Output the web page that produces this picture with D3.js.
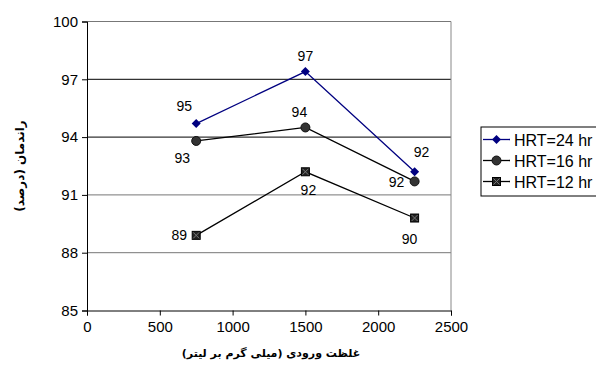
<!DOCTYPE html>
<html><head><meta charset="utf-8">
<script src="https://cdn.jsdelivr.net/npm/d3@7/dist/d3.min.js"></script>
<style>body{margin:0;background:#fff;} svg{display:block;font-family:"Liberation Sans",Arial,sans-serif;}</style>
</head><body>
<svg id="c" width="596" height="365"></svg>
<script>
const xValues = [750, 1500, 2250];
const hrt24 = [94.7, 97.4, 92.2];
const hrt16 = [93.8, 94.5, 91.7];
const hrt12 = [88.9, 92.2, 89.8];
const labels24 = ["95", "97", "92"];
const labels16 = ["93", "94", "92"];
const labels12 = ["89", "92", "90"];
const seriesNames = ["HRT=24 hr", "HRT=16 hr", "HRT=12 hr"];
const xTicks = [0, 500, 1000, 1500, 2000, 2500];
const yTicks = [85, 88, 91, 94, 97, 100];
const xTitle = "غلظت ورودی (میلی گرم بر لیتر)";
const yTitle = "راندمان (درصد)";

const svg = d3.select("#c");
const x = d3.scaleLinear().domain([0, 2500]).range([87, 451]);
const y = d3.scaleLinear().domain([85, 100]).range([310.5, 21.5]);

// gridlines
svg.append("g").selectAll("line").data(yTicks.filter(d => d > 85)).join("line")
  .attr("x1", x(0)).attr("x2", x(2500))
  .attr("y1", d => y(d)).attr("y2", d => y(d))
  .attr("stroke", d => (d === 97 || d === 94) ? "#000" : "#777")
  .attr("stroke-width", 1);
// right border
svg.append("line").attr("x1", x(2500)).attr("x2", x(2500)).attr("y1", y(100)).attr("y2", y(85))
  .attr("stroke", "#888");

// axes
const yAxis = d3.axisLeft(y).tickValues(yTicks).tickSize(5).tickPadding(4).tickFormat(d3.format("d"));
const gy = svg.append("g").attr("transform", `translate(${x(0)},0)`).call(yAxis);
const xAxis = d3.axisBottom(x).tickValues(xTicks).tickSize(5).tickPadding(6).tickFormat(d3.format("d"));
const gx = svg.append("g").attr("transform", `translate(0,${y(85)})`).call(xAxis);
[gx, gy].forEach(g => {
  g.select(".domain").attr("stroke", "#000");
  g.selectAll(".tick line").attr("stroke", "#000");
  g.selectAll("text").attr("font-size", 15).attr("fill", "#000").attr("font-family", "Liberation Sans, Arial, sans-serif");
});

const line = d3.line().x((d, i) => x(xValues[i])).y(d => y(d));

function drawMarker(g, type, cx, cy) {
  if (type === "diamond") {
    g.append("path").attr("d", `M${cx},${cy-4.5}L${cx+4.5},${cy}L${cx},${cy+4.5}L${cx-4.5},${cy}Z`).attr("fill", "#000080");
  } else if (type === "circle") {
    g.append("circle").attr("cx", cx).attr("cy", cy).attr("r", 4.5).attr("fill", "#333").attr("stroke", "#111");
  } else {
    g.append("rect").attr("x", cx-4).attr("y", cy-4).attr("width", 8).attr("height", 8).attr("fill", "#222").attr("stroke", "#000");
    g.append("path").attr("d", `M${cx-3},${cy-3}L${cx+3},${cy+3}M${cx+3},${cy-3}L${cx-3},${cy+3}`).attr("stroke", "#777").attr("stroke-width", 1);
  }
}

const series = [
  {vals: hrt24, labels: labels24, color: "#000080", marker: "diamond", offs: [[-12,-13],[0,-11],[7,-15]]},
  {vals: hrt16, labels: labels16, color: "#000", marker: "circle", offs: [[-14,22],[-6,-10],[-18,6]]},
  {vals: hrt12, labels: labels12, color: "#000", marker: "square", offs: [[-17,5],[3,23],[-5,26]]}
];

series.forEach(s => {
  const g = svg.append("g");
  g.append("path").datum(s.vals).attr("d", line).attr("fill", "none").attr("stroke", s.color).attr("stroke-width", 1.3);
  s.vals.forEach((v, i) => drawMarker(g, s.marker, x(xValues[i]), y(v)));
  g.selectAll("text").data(s.vals).join("text")
    .attr("x", (d, i) => x(xValues[i]) + s.offs[i][0])
    .attr("y", (d, i) => y(d) + s.offs[i][1])
    .attr("text-anchor", "middle").attr("font-size", 14).attr("fill", "#000")
    .text((d, i) => s.labels[i]);
});

// legend
const lg = svg.append("g");
lg.append("rect").attr("x", 481).attr("y", 127).attr("width", 130).attr("height", 69).attr("fill", "#fff").attr("stroke", "#000");
series.forEach((s, i) => {
  const ly = 139.5 + i * 21;
  lg.append("line").attr("x1", 483).attr("x2", 510).attr("y1", ly).attr("y2", ly).attr("stroke", s.color).attr("stroke-width", 1.3);
  drawMarker(lg, s.marker, 496.5, ly);
  lg.append("text").attr("x", 514).attr("y", ly + 6).attr("font-size", 16).attr("fill", "#000").text(seriesNames[i]);
});

// titles
svg.append("text").attr("x", 271).attr("y", 357).attr("text-anchor", "middle")
  .attr("font-family", "DejaVu Sans, sans-serif").attr("font-weight", "bold").attr("font-size", 11)
  .attr("direction", "rtl").text(xTitle);
svg.append("text").attr("transform", "translate(24,166) rotate(-90)").attr("text-anchor", "middle")
  .attr("font-family", "DejaVu Sans, sans-serif").attr("font-weight", "bold").attr("font-size", 12)
  .attr("direction", "rtl").text(yTitle);
</script>
</body></html>
